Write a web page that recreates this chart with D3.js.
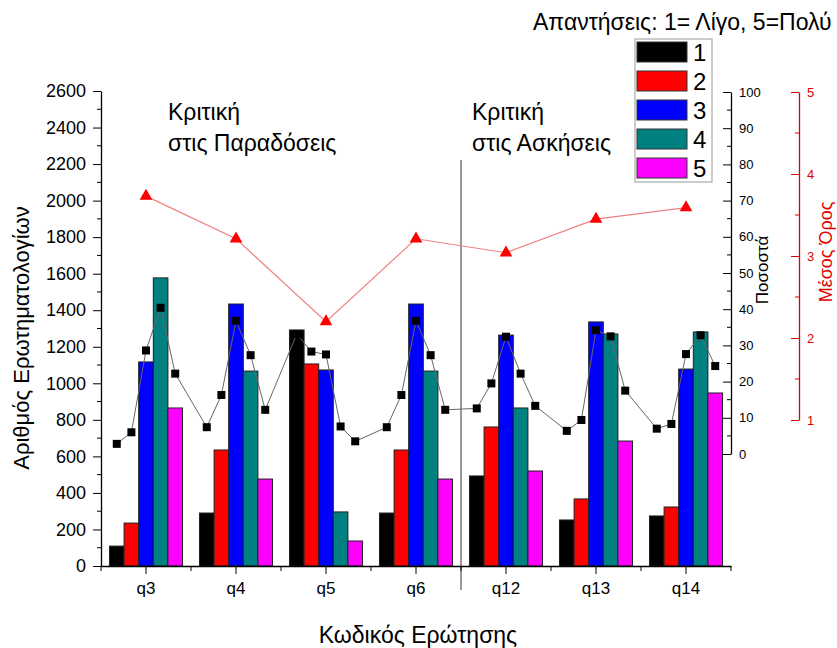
<!DOCTYPE html>
<html>
<head>
<meta charset="utf-8">
<script src="https://cdn.jsdelivr.net/npm/d3@7/dist/d3.min.js"></script>
<style>
  html, body { margin: 0; padding: 0; background: #fff; }
  svg { display: block; font-family: "Liberation Sans", Arial, sans-serif; }
</style>
</head>
<body>
<svg id="chart" width="837" height="648"></svg>
<script>
// Question codes on the x axis
const questions = ["q3", "q4", "q5", "q6", "q12", "q13", "q14"];
// Answer levels (1 = little, 5 = a lot)
const levels = ["1", "2", "3", "4", "5"];
const levelColors = ["#000000", "#ff0000", "#0000ff", "#008080", "#ff00ff"];

// Number of questionnaires per answer level
const count1 = [109, 290, 1292, 290, 493, 252, 274];
const count2 = [235, 635, 1106, 635, 761, 367, 323];
const count3 = [1117, 1434, 1073, 1434, 1264, 1336, 1078];
const count4 = [1577, 1067, 296, 1067, 865, 1270, 1281];
const count5 = [865, 476, 137, 476, 520, 684, 947];

// Percentage per answer level
const pct1 = [2.8, 7.4, 33.1, 7.4, 12.6, 6.4, 7.0];
const pct2 = [6.0, 16.3, 28.3, 16.3, 19.5, 9.4, 8.3];
const pct3 = [28.6, 36.8, 27.5, 36.8, 32.4, 34.2, 27.6];
const pct4 = [40.4, 27.3, 7.6, 27.3, 22.2, 32.5, 32.8];
const pct5 = [22.2, 12.2, 3.5, 12.2, 13.3, 17.5, 24.3];

// Mean answer per question
const meanScore = [3.73, 3.21, 2.20, 3.21, 3.04, 3.45, 3.59];

// Axis ticks
const countTicks = d3.range(0, 2601, 200);
const countMinor = d3.range(100, 2600, 200);
const pctTicks = d3.range(0, 101, 10);
const pctMinor = d3.range(5, 100, 10);
const meanTicks = [1, 2, 3, 4, 5];
const meanMinor = [1.5, 2.5, 3.5, 4.5];

const counts = [count1, count2, count3, count4, count5];
const pcts = [pct1, pct2, pct3, pct4, pct5];

const svg = d3.select("#chart");

const x = d3.scaleBand().domain(questions).range([101, 731]).paddingInner(0).paddingOuter(0);
const xs = d3.scaleBand().domain(levels).range([0, x.bandwidth()]).paddingOuter(0.58);
const y = d3.scaleLinear().domain([0, 2600]).range([566, 91]);
const yPct = d3.scaleLinear().domain([0, 100]).range([454, 92]);
const yMean = d3.scaleLinear().domain([1, 5]).range([420, 92]);

// Bars
const barData = [];
questions.forEach((q, qi) => levels.forEach((l, li) => barData.push({ q, l, li, v: counts[li][qi] })));
svg.append("g").selectAll("rect").data(barData).join("rect")
  .attr("x", d => x(d.q) + xs(d.l))
  .attr("y", d => y(d.v))
  .attr("width", xs.bandwidth())
  .attr("height", d => y(0) - y(d.v))
  .attr("fill", d => levelColors[d.li])
  .attr("stroke", "#222")
  .attr("stroke-width", 1);

// Divider between the two groups of questions
const divX = x("q12");
svg.append("line")
  .attr("x1", divX).attr("x2", divX)
  .attr("y1", 160).attr("y2", 590)
  .attr("stroke", "#333").attr("stroke-width", 1);

// Left axis
const axL = svg.append("g").attr("transform", "translate(101,0)")
  .call(d3.axisLeft(y).tickValues(countTicks).tickFormat(d3.format("d")).tickSize(8).tickSizeOuter(0).tickPadding(7));
axL.selectAll("text").style("font-size", "18px").attr("fill", "#000");
svg.append("g").attr("transform", "translate(101,0)")
  .selectAll("line").data(countMinor).join("line")
  .attr("x1", -4).attr("x2", 0).attr("y1", d => y(d)).attr("y2", d => y(d))
  .attr("stroke", "#000");

// Bottom axis
const axB = svg.append("g").attr("transform", "translate(0,566)")
  .call(d3.axisBottom(x).tickSize(8).tickSizeOuter(0).tickPadding(8));
axB.selectAll("text").style("font-size", "17px").attr("fill", "#000");
const bounds = questions.map(q => x(q)).concat([x.range()[1]]);
svg.append("g").attr("transform", "translate(0,566)")
  .selectAll("line").data(bounds).join("line")
  .attr("x1", d => d).attr("x2", d => d).attr("y1", 0).attr("y2", 5)
  .attr("stroke", "#000");

// Percentage axis
const axP = svg.append("g").attr("transform", "translate(731,0)")
  .call(d3.axisRight(yPct).tickValues(pctTicks).tickSizeInner(-8).tickSizeOuter(0).tickPadding(8));
axP.selectAll("text").style("font-size", "13px").attr("fill", "#000");
svg.append("g").attr("transform", "translate(731,0)")
  .selectAll("line").data(pctMinor).join("line")
  .attr("x1", -4).attr("x2", 0).attr("y1", d => yPct(d)).attr("y2", d => yPct(d))
  .attr("stroke", "#000");

// Mean axis
const axM = svg.append("g").attr("transform", "translate(799,0)")
  .call(d3.axisRight(yMean).tickValues(meanTicks).tickFormat(d3.format("d")).tickSizeInner(-8).tickSizeOuter(0).tickPadding(8));
axM.selectAll("text").style("font-size", "13px").attr("fill", "#e00000");
axM.selectAll("line, path").attr("stroke", "#e00000");
svg.append("g").attr("transform", "translate(799,0)")
  .selectAll("line").data(meanMinor).join("line")
  .attr("x1", -4).attr("x2", 0).attr("y1", d => yMean(d)).attr("y2", d => yMean(d))
  .attr("stroke", "#e00000");

svg.selectAll(".domain").attr("stroke-width", 1.3);

// Percentage points, one per bar, linked in sequence
const pctPoints = [];
questions.forEach((q, qi) => levels.forEach((l, li) => pctPoints.push({ x: x(q) + xs(l) + xs.bandwidth() / 2, v: pcts[li][qi] })));
svg.append("path").datum(pctPoints)
  .attr("d", d3.line().x(d => d.x).y(d => yPct(d.v)))
  .attr("fill", "none").attr("stroke", "#666").attr("stroke-width", 1);
svg.append("g").selectAll("rect").data(pctPoints).join("rect")
  .attr("x", d => d.x - 4).attr("y", d => yPct(d.v) - 4)
  .attr("width", 8).attr("height", 8).attr("fill", "#000");

// Mean score line
const meanPts = questions.map((q, i) => ({ x: x(q) + x.bandwidth() / 2, v: meanScore[i] }));
svg.append("path").datum(meanPts)
  .attr("d", d3.line().x(d => d.x).y(d => yMean(d.v)))
  .attr("fill", "none").attr("stroke", "#f08080").attr("stroke-width", 1.2);
svg.append("g").selectAll("path").data(meanPts).join("path")
  .attr("d", d3.symbol(d3.symbolTriangle, 70))
  .attr("transform", d => `translate(${d.x},${yMean(d.v)})`)
  .attr("fill", "#ff0000");

// Group captions
const caption = (tx, lines) => {
  const t = svg.append("text").attr("x", tx).attr("y", 120).style("font-size", "23px").attr("fill", "#000");
  lines.forEach((s, i) => t.append("tspan").attr("x", tx).attr("dy", i ? 31 : 0).text(s));
};
caption(168, ["Κριτική", "στις Παραδόσεις"]);
caption(472, ["Κριτική", "στις Ασκήσεις"]);

// Legend
svg.append("text").attr("x", 533).attr("y", 30).style("font-size", "23px").attr("fill", "#000")
  .text("Απαντήσεις: 1= Λίγο, 5=Πολύ");
svg.append("rect").attr("x", 635).attr("y", 39).attr("width", 77).attr("height", 143)
  .attr("fill", "#fff").attr("stroke", "#999");
const lg = svg.append("g").selectAll("g").data(levels).join("g")
  .attr("transform", (d, i) => `translate(637,${42 + i * 29})`);
lg.append("rect").attr("width", 50).attr("height", 20)
  .attr("fill", (d, i) => levelColors[i]).attr("stroke", "#333");
lg.append("text").attr("x", 56).attr("y", 19).style("font-size", "24px").attr("fill", "#000").text(d => d);

// Axis titles
svg.append("text").attr("transform", "translate(29,338) rotate(-90)")
  .attr("text-anchor", "middle").style("font-size", "22px").attr("fill", "#000")
  .text("Αριθμός Ερωτηματολογίων");
svg.append("text").attr("x", 418).attr("y", 643)
  .attr("text-anchor", "middle").style("font-size", "23px").attr("fill", "#000")
  .text("Κωδικός Ερώτησης");
svg.append("text").attr("transform", "translate(768,270) rotate(-90)")
  .attr("text-anchor", "middle").style("font-size", "17px").attr("fill", "#000")
  .text("Ποσοστά");
svg.append("text").attr("transform", "translate(832,252) rotate(-90)")
  .attr("text-anchor", "middle").style("font-size", "18px").attr("fill", "#e00000")
  .text("Μέσος Όρος");
</script>
</body>
</html>
